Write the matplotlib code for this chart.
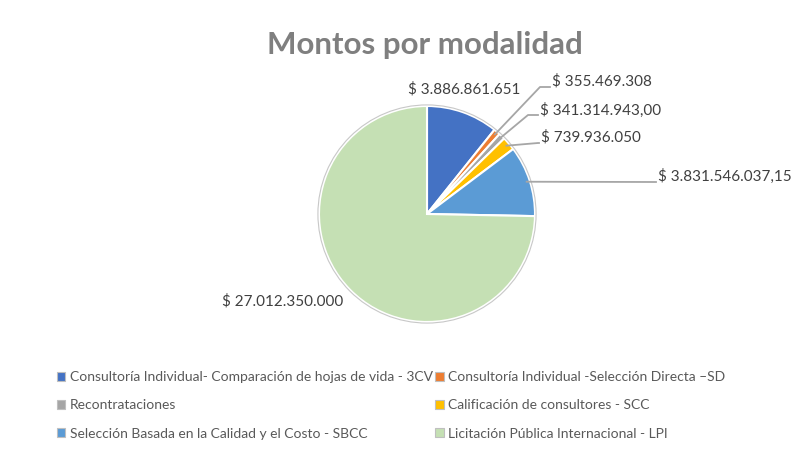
import numpy as np
import matplotlib.pyplot as plt
from matplotlib.patches import Patch, Circle

#%%
# data

categories = ['Consultoría Individual- Comparación de hojas de vida - 3CV',
              'Consultoría Individual -Selección Directa –SD',
              'Recontrataciones',
              'Calificación de consultores - SCC',
              'Selección Basada en la Calidad y el Costo - SBCC',
              'Licitación Pública Internacional - LPI']
montos = [3886861651, 355469308, 341314943.00, 739936050, 3831546037.15, 27012350000]
etiquetas = ['$ 3.886.861.651', '$ 355.469.308', '$ 341.314.943,00',
             '$ 739.936.050', '$ 3.831.546.037,15', '$ 27.012.350.000']
colores = ['#4472C4', '#ED7D31', '#A5A5A5', '#FFC000', '#5B9BD5', '#C5E0B4']

#%%
# layout (pixels of the 807x450 picture)

W, H = 807, 450
CX, CY, R = 427, 214, 108

def px(x, y):
    return (x - CX) / R, (CY - y) / R

plt.rcParams['font.family'] = ['Lato', 'DejaVu Sans']

fig = plt.figure(figsize=(W / 100, H / 100), dpi=100)
ax = fig.add_axes([0, 0, 1, 1])

wedges, _ = ax.pie(montos, colors=colores, startangle=90, counterclock=False,
                   radius=1, center=(0, 0), frame=True,
                   wedgeprops=dict(edgecolor='white', linewidth=1.5))
ax.set_xlim(-CX / R, (W - CX) / R)
ax.set_ylim(-(H - CY) / R, CY / R)
ax.axis('off')
ax.add_patch(Circle((0, 0), 1.01, fill=False, edgecolor='#C8C8C8', linewidth=0.8))

fig.text(425 / W, 1 - 45 / H, 'Montos por modalidad', ha='center', va='center',
         fontsize=22.5, fontweight='bold', color='#7F7F7F')

# label positions: (text left x, text y, elbow) in pixels, elbow None = no leader
pos = [(408, 89, None),
       (552, 81, (540, 87)),
       (540, 110, (528, 115)),
       (541, 137, (538, 143)),
       (658, 176, (653, 182)),
       (222, 301, None)]

for w, lab, (tx, ty, elbow) in zip(wedges, etiquetas, pos):
    x, y = px(tx, ty)
    ax.text(x, y, lab, ha='left', va='center', fontsize=11, color='#404040')
    if elbow is not None:
        ang = np.deg2rad((w.theta1 + w.theta2) / 2)
        sx, sy = 0.97 * np.cos(ang), 0.97 * np.sin(ang)
        ex, ey = px(*elbow)
        hx, _ = px(tx - 2, ty)
        ax.plot([sx, ex, hx], [sy, ey, ey], color='#A6A6A6', linewidth=1.3)

# legend filled row-wise
orden = [0, 2, 4, 1, 3, 5]
handles = [Patch(facecolor=colores[i], edgecolor='#BFBFBF', linewidth=0.8) for i in orden]
ax.legend(handles, [categories[i] for i in orden], ncol=2, frameon=False,
          loc='upper left', bbox_to_anchor=(57 / W, 1 - 371 / H),
          bbox_transform=fig.transFigure, fontsize=10, labelcolor='#595959',
          handlelength=0.6, handleheight=0.6, handletextpad=0.3,
          columnspacing=0.2, labelspacing=1.17, borderpad=0, borderaxespad=0)

fig.savefig('out.png', dpi=100)
